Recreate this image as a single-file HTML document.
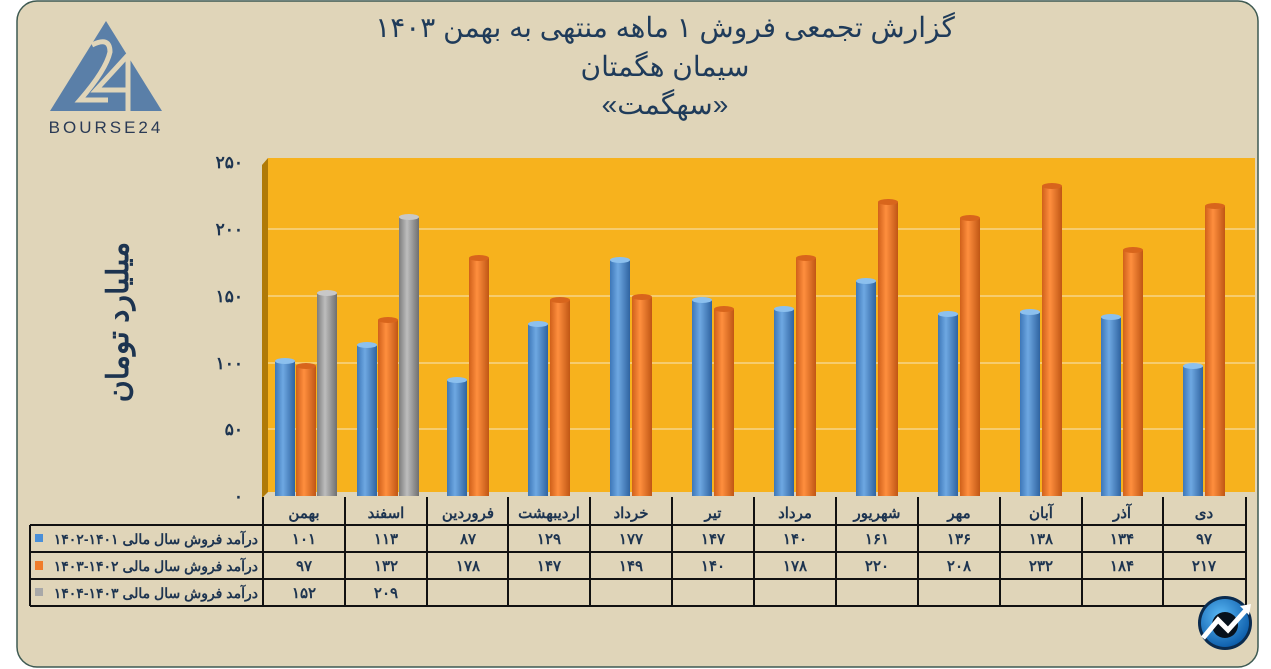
<!DOCTYPE html>
<html><head><meta charset="utf-8"><style>
html,body{margin:0;padding:0;background:#fff;}
svg{display:block;font-family:"Liberation Sans","Noto Sans CJK SC",sans-serif;}
</style></head><body>
<svg width="1271" height="669" viewBox="0 0 1271 669" xmlns="http://www.w3.org/2000/svg">
<defs>
<linearGradient id="gb" x1="0" x2="1"><stop offset="0" stop-color="#3d77b8"/><stop offset="0.4" stop-color="#6ea8e2"/><stop offset="1" stop-color="#2f63a0"/></linearGradient>
<linearGradient id="go" x1="0" x2="1"><stop offset="0" stop-color="#d0601a"/><stop offset="0.4" stop-color="#ff8f3e"/><stop offset="1" stop-color="#c05614"/></linearGradient>
<linearGradient id="gg" x1="0" x2="1"><stop offset="0" stop-color="#7d7d7d"/><stop offset="0.4" stop-color="#bdbdbd"/><stop offset="1" stop-color="#6f6f6f"/></linearGradient>
<radialGradient id="lg" cx="0.4" cy="0.35" r="0.7"><stop offset="0" stop-color="#5ab8f5"/><stop offset="1" stop-color="#0a5aa8"/></radialGradient>
</defs>
<rect x="0" y="0" width="1271" height="669" fill="#ffffff"/>
<rect x="17" y="1" width="1241" height="666" rx="20" fill="#e0d5b9" stroke="#3e5a52" stroke-width="1.5"/>
<polygon points="106,21 50,111 162,111" fill="#5a7fa8"/>
<path d="M92,45 Q110,36 110,52 Q106,70 80,100 L108,100" fill="none" stroke="#e0d5b9" stroke-width="5"/>
<path d="M128,55 L96,90 L128,90 M128,55 L128,112" fill="none" stroke="#e0d5b9" stroke-width="5"/>
<text x="106" y="133" text-anchor="middle" font-size="17" fill="#2a3a55" letter-spacing="3">BOURSE24</text>
<g fill="#1f3b5a" font-size="28" text-anchor="middle">
<text x="665" y="37" direction="rtl">گزارش تجمعی فروش ۱ ماهه منتهی به بهمن ۱۴۰۳</text>
<text x="665" y="76" direction="rtl">سیمان هگمتان</text>
<text x="665" y="114" direction="rtl">«سهگمت»</text>
</g>
<text transform="translate(128,322) rotate(-90)" text-anchor="middle" font-size="30" font-weight="bold" fill="#1d3450" direction="rtl">میلیارد تومان</text>
<polygon points="262,165 268,158 268,492 262,498" fill="#b07a08"/>
<rect x="268" y="158" width="987" height="334" fill="#f7b21d"/>
<g stroke="#f5d48a" stroke-width="1.5">
<line x1="268" y1="229" x2="1255" y2="229"/><line x1="268" y1="296" x2="1255" y2="296"/>
<line x1="268" y1="363" x2="1255" y2="363"/><line x1="268" y1="429" x2="1255" y2="429"/>
</g>
<g font-size="17" font-weight="bold" fill="#1d3450" text-anchor="end">
<text x="243" y="168">۲۵۰</text><text x="243" y="235">۲۰۰</text><text x="243" y="302">۱۵۰</text>
<text x="243" y="369">۱۰۰</text><text x="243" y="435">۵۰</text><text x="243" y="502">۰</text>
</g>
<g fill="url(#gb)">
<rect x="275" y="361" width="20" height="135"/><rect x="357" y="345" width="20" height="151"/>
<rect x="447" y="380" width="20" height="116"/><rect x="528" y="324" width="20" height="172"/>
<rect x="610" y="260" width="20" height="236"/><rect x="692" y="300" width="20" height="196"/>
<rect x="774" y="309" width="20" height="187"/><rect x="856" y="281" width="20" height="215"/>
<rect x="938" y="314" width="20" height="182"/><rect x="1020" y="312" width="20" height="184"/>
<rect x="1101" y="317" width="20" height="179"/><rect x="1183" y="366" width="20" height="130"/>
</g>
<g fill="#8cc0ee">
<ellipse cx="285" cy="361" rx="10" ry="3"/><ellipse cx="367" cy="345" rx="10" ry="3"/>
<ellipse cx="457" cy="380" rx="10" ry="3"/><ellipse cx="538" cy="324" rx="10" ry="3"/>
<ellipse cx="620" cy="260" rx="10" ry="3"/><ellipse cx="702" cy="300" rx="10" ry="3"/>
<ellipse cx="784" cy="309" rx="10" ry="3"/><ellipse cx="866" cy="281" rx="10" ry="3"/>
<ellipse cx="948" cy="314" rx="10" ry="3"/><ellipse cx="1030" cy="312" rx="10" ry="3"/>
<ellipse cx="1111" cy="317" rx="10" ry="3"/><ellipse cx="1193" cy="366" rx="10" ry="3"/>
</g>
<g fill="url(#go)">
<rect x="296" y="366" width="20" height="130"/><rect x="378" y="320" width="20" height="176"/>
<rect x="469" y="258" width="20" height="238"/><rect x="550" y="300" width="20" height="196"/>
<rect x="632" y="297" width="20" height="199"/><rect x="714" y="309" width="20" height="187"/>
<rect x="796" y="258" width="20" height="238"/><rect x="878" y="202" width="20" height="294"/>
<rect x="960" y="218" width="20" height="278"/><rect x="1042" y="186" width="20" height="310"/>
<rect x="1123" y="250" width="20" height="246"/><rect x="1205" y="206" width="20" height="290"/>
</g>
<g fill="#d8651c">
<ellipse cx="306" cy="366" rx="10" ry="3"/><ellipse cx="388" cy="320" rx="10" ry="3"/>
<ellipse cx="479" cy="258" rx="10" ry="3"/><ellipse cx="560" cy="300" rx="10" ry="3"/>
<ellipse cx="642" cy="297" rx="10" ry="3"/><ellipse cx="724" cy="309" rx="10" ry="3"/>
<ellipse cx="806" cy="258" rx="10" ry="3"/><ellipse cx="888" cy="202" rx="10" ry="3"/>
<ellipse cx="970" cy="218" rx="10" ry="3"/><ellipse cx="1052" cy="186" rx="10" ry="3"/>
<ellipse cx="1133" cy="250" rx="10" ry="3"/><ellipse cx="1215" cy="206" rx="10" ry="3"/>
</g>
<g fill="url(#gg)">
<rect x="317" y="293" width="20" height="203"/><rect x="399" y="217" width="20" height="279"/>
</g>
<g fill="#c8c8c8"><ellipse cx="327" cy="293" rx="10" ry="3"/><ellipse cx="409" cy="217" rx="10" ry="3"/></g>
<g stroke="#111" stroke-width="2" fill="none">
<line x1="30" y1="525" x2="1246" y2="525"/><line x1="30" y1="552" x2="1246" y2="552"/>
<line x1="30" y1="579" x2="1246" y2="579"/><line x1="30" y1="606" x2="1246" y2="606"/>
<line x1="30" y1="525" x2="30" y2="606"/>
<line x1="263" y1="497" x2="263" y2="606"/><line x1="345" y1="497" x2="345" y2="606"/>
<line x1="427" y1="497" x2="427" y2="606"/><line x1="508" y1="497" x2="508" y2="606"/>
<line x1="590" y1="497" x2="590" y2="606"/><line x1="672" y1="497" x2="672" y2="606"/>
<line x1="754" y1="497" x2="754" y2="606"/><line x1="836" y1="497" x2="836" y2="606"/>
<line x1="918" y1="497" x2="918" y2="606"/><line x1="1000" y1="497" x2="1000" y2="606"/>
<line x1="1082" y1="497" x2="1082" y2="606"/><line x1="1163" y1="497" x2="1163" y2="606"/>
<line x1="1246" y1="497" x2="1246" y2="606"/>
</g>
<g font-size="15" font-weight="bold" fill="#1d3450" text-anchor="middle">
<text x="304" y="518">بهمن</text><text x="386" y="518">اسفند</text><text x="468" y="518">فروردین</text>
<text x="549" y="518">اردیبهشت</text><text x="631" y="518">خرداد</text><text x="713" y="518">تیر</text>
<text x="795" y="518">مرداد</text><text x="877" y="518">شهریور</text><text x="959" y="518">مهر</text>
<text x="1041" y="518">آبان</text><text x="1122" y="518">آذر</text><text x="1204" y="518">دی</text>
<text x="304" y="544">۱۰۱</text><text x="386" y="544">۱۱۳</text><text x="468" y="544">۸۷</text>
<text x="549" y="544">۱۲۹</text><text x="631" y="544">۱۷۷</text><text x="713" y="544">۱۴۷</text>
<text x="795" y="544">۱۴۰</text><text x="877" y="544">۱۶۱</text><text x="959" y="544">۱۳۶</text>
<text x="1041" y="544">۱۳۸</text><text x="1122" y="544">۱۳۴</text><text x="1204" y="544">۹۷</text>
<text x="304" y="571">۹۷</text><text x="386" y="571">۱۳۲</text><text x="468" y="571">۱۷۸</text>
<text x="549" y="571">۱۴۷</text><text x="631" y="571">۱۴۹</text><text x="713" y="571">۱۴۰</text>
<text x="795" y="571">۱۷۸</text><text x="877" y="571">۲۲۰</text><text x="959" y="571">۲۰۸</text>
<text x="1041" y="571">۲۳۲</text><text x="1122" y="571">۱۸۴</text><text x="1204" y="571">۲۱۷</text>
<text x="304" y="598">۱۵۲</text><text x="386" y="598">۲۰۹</text>
</g>
<g font-size="14" font-weight="bold" fill="#1d3450">
<text x="258" y="544" direction="rtl" text-anchor="start">درآمد فروش سال مالی ۱۴۰۱-۱۴۰۲</text>
<text x="258" y="571" direction="rtl" text-anchor="start">درآمد فروش سال مالی ۱۴۰۲-۱۴۰۳</text>
<text x="258" y="598" direction="rtl" text-anchor="start">درآمد فروش سال مالی ۱۴۰۳-۱۴۰۴</text>
</g>
<rect x="35" y="534" width="8" height="8" fill="#4a8fd8"/>
<rect x="35" y="561" width="8" height="9" fill="#f07c2a"/>
<rect x="35" y="588" width="8" height="8" fill="#a8a8a8"/>
<circle cx="1225" cy="623" r="27" fill="#0b2b4e"/>
<circle cx="1225" cy="623" r="24" fill="url(#lg)"/>
<circle cx="1225" cy="625" r="13" fill="#07111c"/>
<path d="M1203,638 L1218,620 L1228,630 L1246,610" fill="none" stroke="#fff" stroke-width="5"/>
<polygon points="1240,606 1251,604 1249,615" fill="#fff"/>
</svg>
</body></html>
